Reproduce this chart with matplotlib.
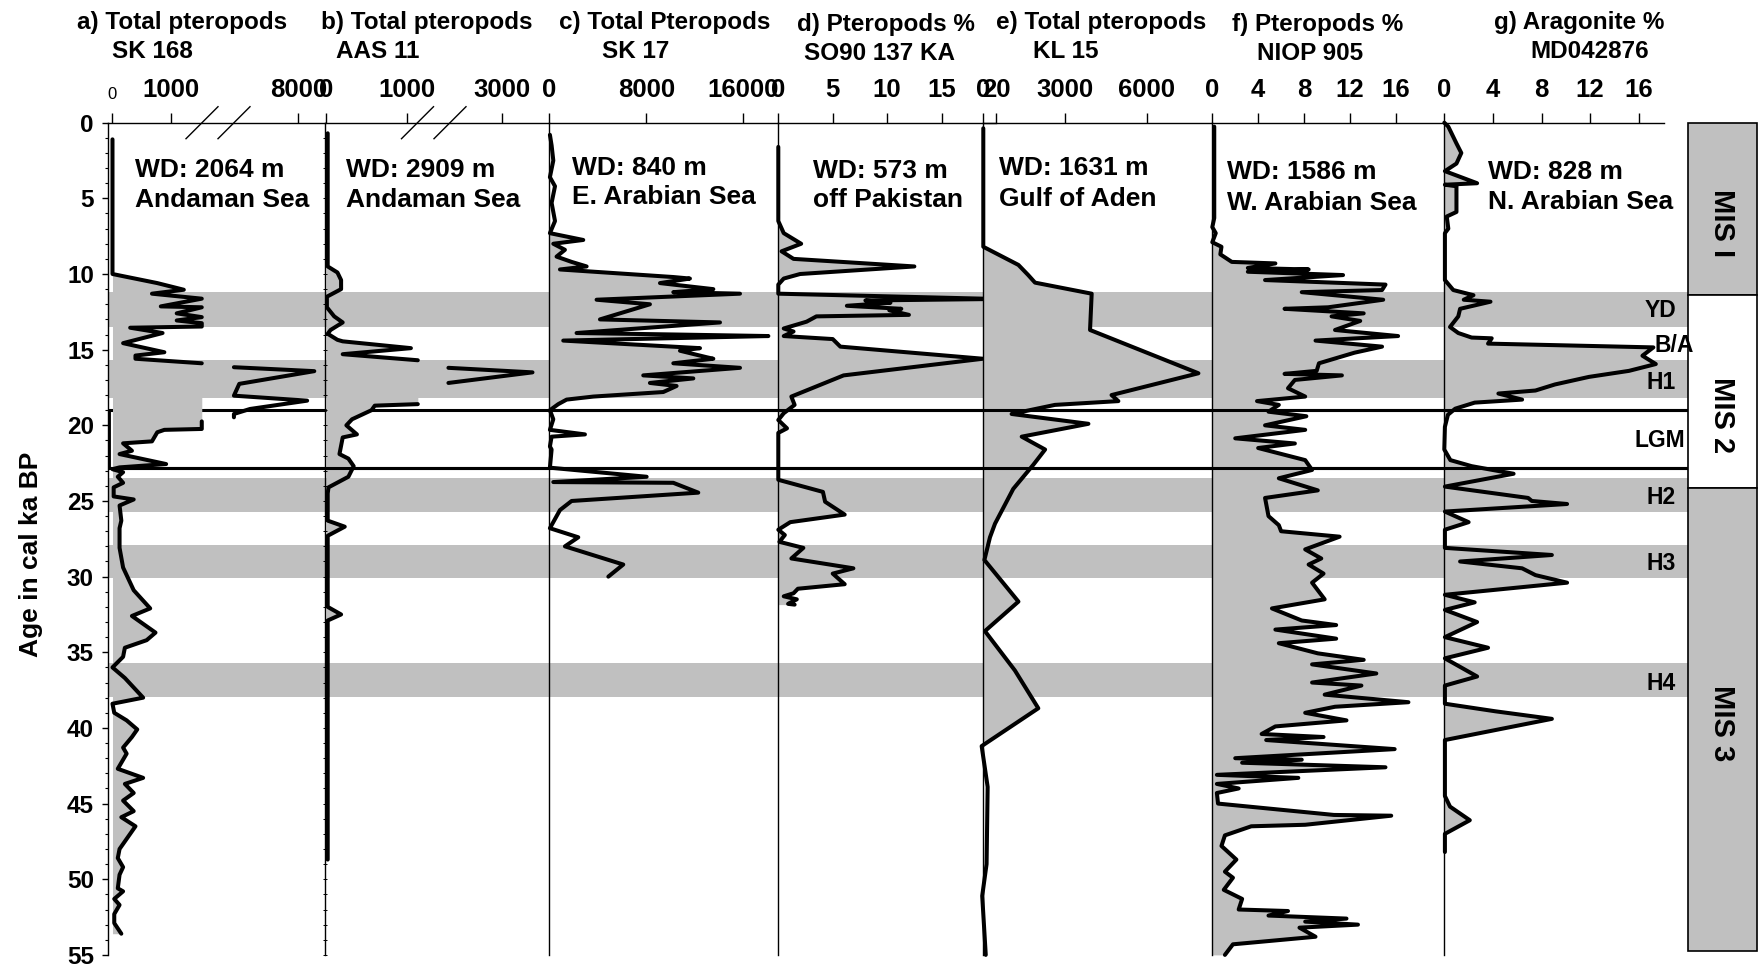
import numpy as np
import matplotlib
matplotlib.use("Agg")
import matplotlib.pyplot as plt
from matplotlib.ticker import MultipleLocator
from matplotlib.patches import Rectangle

plt.rcParams['font.family'] = ['Liberation Sans', 'DejaVu Sans']
plt.rcParams['font.weight'] = 'bold'

# ---------------- data (age in cal ka BP, value) ----------------
a_age = [1.1, 10.0, 10.6, 11.04, 11.3, 11.63, 12.14, 12.2, 12.6, 12.85, 13.07, 13.25, 13.47, 13.55, 13.9, 14.57, 15.17, 15.39, 15.6, 15.9,
         16.16, 16.42, 17.26, 18.04, 18.37, 18.92, 19.25, 19.47,
         19.74, 20.24, 20.3, 20.46, 21.06, 21.19, 21.68, 21.9, 22.56, 22.78, 22.9, 23.1, 23.4, 23.8, 24.1, 24.7, 24.9, 25.3, 26.3, 26.8,
         28.1, 29.4, 30.9, 32.1, 32.6, 33.7, 34.2, 34.7, 35.3, 36.0, 36.7, 38.0, 38.4, 39.0, 39.5, 40.1, 40.6, 41.3, 41.7, 42.7,
         43.3, 43.7, 44.3, 44.8, 45.5, 45.9, 46.5, 47.0, 48.0, 48.6, 49.2, 49.7, 50.6, 50.8, 51.3, 51.7, 52.3, 52.9, 53.6]
a_val = [0, 0, 760, 1210, 670, 1515, 820, 1515, 1090, 1515, 1090, 1515, 1515, 300, 850, 180, 880, 390, 390, 1515,
         6200, 8450, 6350, 6200, 8250, 6650, 6200, 6200,
         1515, 1515, 880, 760, 670, 180, 330, 120, 910, 120, 0, 180, 90, 180, 20, 20, 360, 120, 150, 120,
         120, 180, 360, 640, 330, 730, 580, 210, 180, 0, 210, 520, 0, 30, 240, 420, 330, 180, 240, 90,
         520, 210, 360, 180, 360, 150, 390, 300, 120, 90, 180, 120, 90, 180, 30, 120, 30, 30, 150]

b_age = [0.7, 9.5, 9.9, 10.4, 11.0, 11.5, 12.2, 12.8, 13.2, 13.7, 13.95, 14.35, 14.45, 14.9, 15.3, 15.7, 16.2, 16.5, 17.2, 18.6,
         18.7, 19.0, 19.6, 20.0, 20.6, 20.8, 21.9, 22.2, 22.7, 23.4, 24.1, 24.5, 26.3, 26.7, 27.3, 32.0, 32.5, 32.9, 48.7]
b_val = [20, 20, 140, 185, 185, 10, 10, 100, 205, 55, 20, 140, 205, 1045, 205, 1130, 1500, 3850, 1500, 1130,
         600, 560, 320, 250, 380, 205, 165, 275, 340, 275, 30, 20, 20, 230, 20, 20, 185, 20, 20]

c_age = [0.8, 1.5, 2.5, 3.6, 4.2, 5.3, 5.9, 6.5, 7.3, 7.75, 8.0, 8.4, 8.85, 9.2, 9.5, 9.7, 10.2, 10.3, 10.6, 11.0,
         11.2, 11.3, 11.7, 12.0, 13.0, 13.2, 13.9, 14.0, 14.1, 14.4, 14.9, 15.07, 15.5, 15.6, 15.9, 16.2, 16.7, 16.9, 17.2, 17.4,
         17.8, 18.1, 18.3, 18.6, 19.0, 19.6, 20.3, 20.6, 20.75, 21.4, 21.6, 22.8, 23.4, 23.75, 23.8, 24.45, 25.0, 25.6, 26.8, 27.4,
         28.0, 29.2, 30.0]
c_val = [50, 190, 330, 50, 470, 190, 330, 470, 50, 2800, 330, 1290, 600, 1840, 3080, 880, 10230, 11600, 9130, 13530,
         10230, 15730, 3900, 8300, 4180, 14080, 2250, 10500, 18070, 1150, 12430, 10780, 12980, 13530, 10230, 15730, 7750, 11880, 8300, 10500,
         9400, 3630, 1430, 740, 50, 330, 50, 2940, 190, 50, 190, 50, 8030, 330, 10230, 12290, 1840, 880, 50, 2390,
         1290, 6100, 4870]

d_age = [1.6, 6.5, 7.3, 8.0, 8.5, 9.0, 9.5, 10.0, 10.3, 10.7, 11.3, 11.65, 11.75, 11.9, 12.1, 12.3, 12.4, 12.7, 12.8, 13.15,
         13.6, 13.8, 14.1, 14.3, 14.8, 15.6, 16.7, 18.1, 18.65, 19.2, 19.65, 20.2, 20.5, 23.6, 24.4, 25.05, 25.9, 26.4, 26.9, 27.25,
         27.7, 28.1, 28.8, 29.45, 29.8, 30.5, 30.8, 31.1, 31.3, 31.5, 31.8, 31.85]
d_val = [0, 0, 0.5, 2.1, 0.3, 1.4, 12.5, 2.0, 0.5, 0, 0, 20.0, 8.0, 10.3, 6.3, 11.3, 10.2, 12.0, 3.5, 2.6,
         0.5, 1.4, 0.5, 5.0, 5.7, 18.8, 6.0, 1.2, 1.5, 0.5, 0, 0.8, 0, 0, 4.1, 4.3, 6.1, 1.1, 0, 0.6,
         0.1, 2.3, 1.2, 6.9, 5.0, 6.1, 1.8, 1.4, 0.5, 1.7, 0.9, 1.5]

e_age = [0.37, 8.2, 9.4, 10.07, 10.57, 11.3, 13.7, 16.56, 18.0, 18.4, 18.65, 19.25, 19.9, 20.75, 21.6, 22.6, 24.2, 26.5, 27.4, 28.9,
         31.65, 33.6, 36.2, 38.7, 41.2, 43.9, 49.0, 51.1, 55.0]
e_val = [0, 0, 1290, 1650, 1900, 3980, 3920, 7900, 4710, 4960, 2630, 1040, 3860, 1410, 2270, 1840, 1100, 430, 245, 40,
         1290, 60, 1160, 2020, -60, 160, 120, -40, 90]

f_age = [0.26, 6.3, 6.9, 7.3, 7.9, 8.2, 8.7, 9.2, 9.3, 9.6, 9.7, 9.85, 10.07, 10.4, 10.7, 11.06, 11.2, 11.7, 12.2, 12.3,
         12.6, 12.8, 13.1, 13.7, 14.1, 14.4, 14.8, 15.2, 15.9, 16.4, 16.6, 16.7, 17.0, 17.55, 18.1, 18.4, 18.65, 19.1, 19.4, 20.0,
         20.3, 20.86, 21.2, 21.5, 22.3, 22.95, 23.5, 24.3, 24.8, 26.0, 26.6, 27.0, 27.36, 28.2, 28.8, 29.2, 29.8, 30.4, 31.5, 32.1,
         32.9, 33.2, 33.5, 34.1, 34.4, 35.07, 35.5, 35.8, 36.4, 37.0, 37.2, 37.8, 38.3, 38.6, 39.0, 39.5, 39.9, 40.4, 40.6, 40.8,
         41.4, 42.0, 42.1, 42.3, 42.6, 43.1, 43.3, 43.7, 44.0, 44.3, 45.0, 45.75, 45.8, 46.4, 46.5, 47.1, 47.8, 48.7, 49.5, 49.9,
         50.7, 51.3, 52.0, 52.1, 52.4, 52.6, 52.8, 53.0, 53.2, 53.8, 54.3, 55.0]
f_val = [0.17, 0.17, 0, 0.3, 0, 0.8, 0.7, 1.7, 5.5, 3.1, 8.4, 3.1, 11.4, 4.6, 15.1, 14.8, 7.8, 14.9, 10.1, 6.3,
         13.2, 10.4, 12.9, 10.7, 16.2, 9.0, 14.8, 12.4, 9.3, 9.1, 6.3, 11.3, 7.2, 6.6, 8.1, 3.9, 5.8, 4.9, 8.2, 4.6,
         8.1, 2.0, 7.2, 4.0, 8.1, 8.7, 5.8, 9.2, 4.6, 4.9, 5.8, 6.0, 11.1, 8.1, 9.5, 8.4, 9.7, 8.7, 9.8, 5.2,
         7.8, 10.8, 5.5, 10.8, 5.8, 9.2, 13.2, 8.7, 14.3, 8.7, 13.0, 9.8, 17.1, 10.7, 8.1, 11.7, 5.5, 4.3, 9.7, 4.7,
         15.9, 2.0, 7.8, 2.6, 15.1, 0.4, 7.5, 0.4, 2.3, 0.4, 0.5, 10.6, 15.6, 8.1, 3.4, 1.1, 0.8, 2.1, 1.1, 1.8,
         1.0, 2.6, 2.3, 6.6, 4.9, 11.7, 8.1, 12.7, 7.6, 9.0, 1.8, 1.1]

g_age = [0.0, 0.26, 1.37, 2.0, 2.7, 3.2, 4.0, 4.1, 4.2, 5.9, 6.2, 7.0, 7.3, 10.4, 11.06, 11.4, 11.7, 11.83, 12.3, 12.8,
         13.5, 13.9, 14.2, 14.25, 14.6, 14.85, 15.4, 15.95, 16.4, 16.8, 17.3, 17.7, 17.9, 18.3, 18.5, 18.9, 19.3, 20.1, 21.6, 22.3,
         22.7, 23.2, 24.05, 24.8, 25.0, 25.2, 25.7, 26.4, 26.9, 28.1, 28.57, 29.0, 29.45, 29.9, 30.4, 31.2, 31.7, 32.2, 33.0, 34.0,
         34.7, 35.4, 36.6, 37.2, 38.4, 38.9, 39.4, 40.8, 44.5, 45.2, 46.1, 47.0, 48.2]
g_val = [0, 0.33, 1.0, 1.4, 1.0, 0.05, 2.7, 0.05, 1.0, 1.0, 0.2, 0.33, 0.05, 0.05, 0.74, 2.4, 1.6, 3.8, 1.3, 1.15,
         0.47, 1.15, 2.25, 3.9, 3.6, 17.2, 16.3, 17.4, 15.2, 11.9, 9.1, 7.5, 4.45, 6.4, 2.5, 0.9, 0.3, 0.05, 0.0, 0.5,
         2.25, 5.7, 0.05, 6.9, 7.2, 10.1, 0.05, 2.0, 0.05, 0.05, 8.85, 1.3, 6.4, 7.5, 10.1, 0.05, 2.5, 0.05, 2.7, 0.05,
         3.6, 0.05, 2.7, 0.05, 0.05, 4.2, 8.85, 0.05, 0.05, 0.47, 2.1, 0.05, 0.05]

titles = [("a) Total pteropods", "SK 168"), ("b) Total pteropods", "AAS 11"),
          ("c) Total Pteropods", "SK 17"), ("d) Pteropods %", "SO90 137 KA"),
          ("e) Total pteropods", "KL 15"), ("f) Pteropods %", "NIOP 905"),
          ("g) Aragonite %", "MD042876")]
sites = [("WD: 2064 m", "Andaman Sea"), ("WD: 2909 m", "Andaman Sea"),
         ("WD: 840 m", "E. Arabian Sea"), ("WD: 573 m", "off Pakistan"),
         ("WD: 1631 m", "Gulf of Aden"), ("WD: 1586 m", "W. Arabian Sea"),
         ("WD: 828 m", "N. Arabian Sea")]
event_bands = [(11.17, 13.48), (15.68, 18.2), (23.5, 25.7), (27.9, 30.1), (35.73, 37.93)]
lgm_limits = [19.0, 22.8]
event_labels = [("YD", 12.38), ("B/A", 14.7), ("H1", 17.2), ("LGM", 21.0), ("H2", 24.76), ("H3", 29.12), ("H4", 37.05)]
mis_stages = [("MIS I", 0.0, 11.39), ("MIS 2", 11.39, 24.16), ("MIS 3", 24.16, 54.72)]
mis_label_age = [6.65, 19.3, 39.7]

a_ticks = [0, 1000, 8000]
b_ticks = [0, 1000, 3000]
c_ticks = [0, 8000, 16000]
d_ticks = [0, 5, 10, 15, 20]
e_ticks = [0, 3000, 6000]
f_ticks = [0, 4, 8, 12, 16]
g_ticks = [0, 4, 8, 12, 16]

# ---------------- layout ----------------
W, H = 1759, 968
GREY = '#C0C0C0'
TOP, BOT = 122.7, 954.9
LW = 2.9
fig = plt.figure(figsize=(W / 100, H / 100), dpi=100)
fig.patch.set_facecolor('white')


def fy(py):
    return 1 - py / H


def make_axes(l, r, z):
    ax = fig.add_axes([l / W, fy(BOT), (r - l) / W, (BOT - TOP) / H])
    ax.set_zorder(z)
    ax.patch.set_alpha(0)
    ax.set_ylim(55, 0)
    return ax


# background: event bands + LGM lines
bg = make_axes(108.2, W, 0)
bg.set_xlim(108.2, W)
bg.axis('off')
band_end = (1688 - 108.2) / (W - 108.2)
for y0, y1 in event_bands:
    bg.axhspan(y0, y1, xmin=0, xmax=band_end, color=GREY, lw=0)
bg.hlines(lgm_limits, 108.2, 1688, color='k', lw=2.2)


def style_panel(ax, ticks, first=False):
    ax.xaxis.tick_top()
    ax.set_xticks(ticks)
    ax.tick_params(axis='x', which='major', direction='out', length=7.2, width=1.0,
                   pad=7.6, labelsize=18.5)
    ax.tick_params(axis='x', which='minor', top=False, bottom=False)
    for s in ['right', 'bottom']:
        ax.spines[s].set_visible(False)
    ax.spines['top'].set_linewidth(1.0)
    ax.spines['left'].set_linewidth(1.0)
    if first:
        ax.set_yticks(np.arange(0, 56, 5))
        ax.yaxis.set_minor_locator(MultipleLocator(1))
        ax.tick_params(axis='y', which='major', direction='out', length=4.3, width=1.0,
                       pad=6, labelsize=17.5)
        ax.tick_params(axis='y', which='minor', direction='out', length=2.2, width=0.8)
    else:
        ax.set_yticks([])


def split_segments(age, val, lo, hi):
    segs, cur = [], [0]
    for i in range(1, len(val)):
        p, q = val[i - 1], val[i]
        if (p <= lo and q >= hi) or (p >= hi and q <= lo):
            segs.append(cur)
            cur = [i]
        else:
            cur.append(i)
    segs.append(cur)
    return segs


def broken_panel(l, r, age, val, fwd_v, fwd_u, lo, hi, ticks, first, z):
    ax = make_axes(l, r, z)
    fwd = lambda v: np.interp(v, fwd_v, fwd_u)
    inv = lambda u: np.interp(u, fwd_u, fwd_v)
    ax.set_xscale('function', functions=(fwd, inv))
    age = np.asarray(age, float)
    val = np.asarray(val, float)
    left_max = val[val <= lo].max()
    ax.fill_betweenx(age, 0, np.minimum(val, left_max), color=GREY, lw=0)
    for seg in split_segments(age, val, lo, hi):
        ax.plot(val[seg], age[seg], color='k', lw=LW, solid_joinstyle='round', solid_capstyle='round')
    style_panel(ax, ticks, first)
    return ax, inv


# panel a (broken axis)
A_V = [-1000, 0, 1600, 6000, 8000, 20000]
A_U = [150, 315, 579, 635, 835, 2035]
ax_a, inv_a = broken_panel(108.2, 325.0, a_age, a_val, A_V, A_U, 1600, 6000, a_ticks, True, 2)
ax_a.set_xlim(inv_a(303), inv_a(910))
lab0 = ax_a.get_xticklabels()[0]
lab0.set_fontsize(12)
lab0.set_fontweight('normal')

# panel b (broken axis)
B_V = [-1000, 0, 1300, 1500, 3000, 20000]
B_U = [686, 913, 1208, 1255, 1405, 3105]
ax_b, inv_b = broken_panel(325.0, 549.3, b_age, b_val, B_V, B_U, 1300, 1500, b_ticks, False, 3)
ax_b.set_xlim(inv_b(910), inv_b(1537))
ax_b.yaxis.set_minor_locator(MultipleLocator(1))
ax_b.tick_params(axis='y', which='minor', direction='inout', length=3, width=0.7)


def simple_panel(l, r, age, val, xlim, ticks, z, fill_range=None):
    ax = make_axes(l, r, z)
    age = np.asarray(age, float)
    val = np.asarray(val, float)
    if fill_range is None:
        mask = np.ones_like(age, bool)
    else:
        mask = (age >= fill_range[0]) & (age <= fill_range[1])
    ax.fill_betweenx(age, 0, val, where=mask, color=GREY, lw=0)
    ax.plot(val, age, color='k', lw=LW, solid_joinstyle='round', solid_capstyle='round', clip_on=False)
    ax.set_xlim(*xlim)
    style_panel(ax, ticks)
    return ax


ax_c = simple_panel(549.3, 778.3, c_age, c_val, (0, 18890), c_ticks, 4, (7.3, 19.0))
ax_d = simple_panel(778.3, 996.0, d_age, d_val, (0, 20), d_ticks, 5)
ax_e = simple_panel(983.3, 1212.3, e_age, e_val, (0, 8410), e_ticks, 6, (8.2, 41.2))
ax_f = simple_panel(1212.3, 1445.0, f_age, f_val, (0, 20.29), f_ticks, 7)
ax_g = simple_panel(1444.3, 1663.7, g_age, g_val, (0, 18.05), g_ticks, 8)

# overlay: LGM lines on top, break marks, labels, MIS boxes
ov = make_axes(108.2, W, 30)
ov.set_xlim(108.2, W)
ov.axis('off')
ov.hlines(lgm_limits[1], 108.2, 1688, color='k', lw=2.2)
ov.hlines(lgm_limits[0], 549.3, 1688, color='k', lw=2.2)
ov.vlines(108.2, lgm_limits[0], lgm_limits[1], color='k', lw=3.5)
dk = 16 / ((BOT - TOP) / 55)
for xc in [202, 234, 417.5, 450]:
    ov.plot([xc - 16, xc + 16], [dk, -dk], color='k', lw=1.0, clip_on=False)

for name, age in event_labels:
    if name == "B/A":
        ov.text(1674, age, name, ha='center', va='center', fontsize=16.5, zorder=5)
    elif name == "LGM":
        ov.text(1685, age, name, ha='right', va='center', fontsize=16.5, zorder=5)
    else:
        ov.text(1676, age, name, ha='right', va='center', fontsize=16.5, zorder=5)

for (name, y0, y1), ly, fc in zip(mis_stages, mis_label_age, [GREY, 'white', GREY]):
    ov.add_patch(Rectangle((1688, y0), 1757 - 1688, y1 - y0, facecolor=fc, edgecolor='k',
                           lw=1.2, clip_on=False, zorder=2))
    ov.text(1722.5, ly, name, rotation=270, ha='center', va='center', fontsize=21, zorder=5)

# titles and site texts
title_pos = [((76.8, 23), (112.5, 51)), ((321, 23), (335.7, 51)), ((559, 23), (602, 51)),
             ((797, 25), (804, 54)), ((996, 23), (1033, 51)), ((1232, 25), (1257, 54)),
             ((1494, 23), (1530, 51))]
site_pos = [(134.6, 170, 200), (346, 170, 200), (571.7, 168.3, 196.7), (813.3, 170.7, 200),
            (999, 168.3, 199.3), (1227.3, 171.7, 202.7), (1487.7, 171.7, 201.7)]
for (t1, t2), ((x1, y1), (x2, y2)) in zip(titles, title_pos):
    fig.text(x1 / W, fy(y1), t1, ha='left', va='center', fontsize=17.5)
    fig.text(x2 / W, fy(y2), t2, ha='left', va='center', fontsize=17.5)
for (s1, s2), (x, y1, y2) in zip(sites, site_pos):
    fig.text(x / W, fy(y1), s1, ha='left', va='center', fontsize=19)
    fig.text(x / W, fy(y2), s2, ha='left', va='center', fontsize=19)

fig.text(31 / W, fy(554), 'Age in cal ka BP', rotation=90, ha='center', va='center', fontsize=19)

fig.savefig('out.png', dpi=100)
